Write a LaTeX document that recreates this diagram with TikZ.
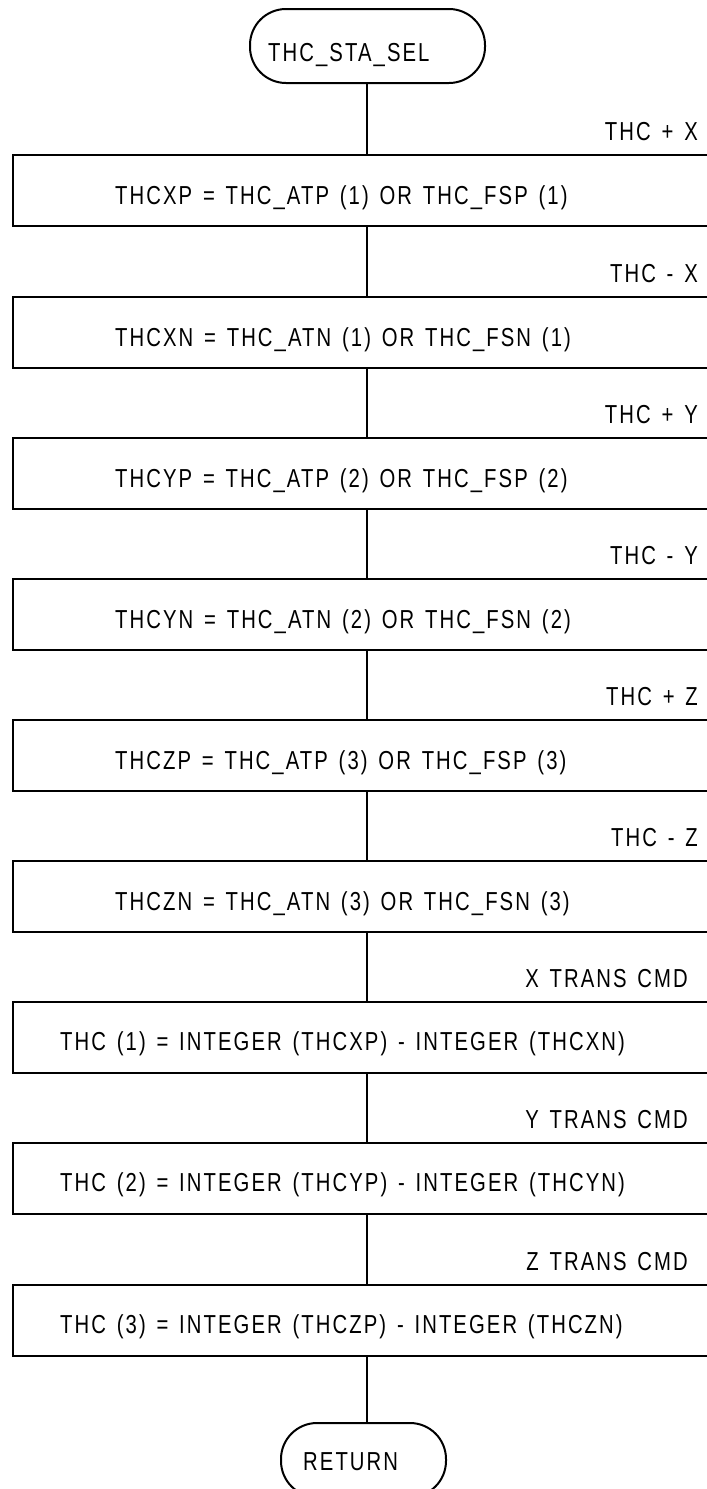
\documentclass[tikz,border=0pt]{standalone}
\usepackage{fontspec}
\setmainfont[FakeStretch=0.78,LetterSpace=8,WordSpace=1.4]{Liberation Sans}
\begin{document}
\begin{tikzpicture}[x=1pt,y=-1pt,
  every node/.style={font=\fontsize{26}{30}\selectfont},
  term/.style={draw, line width=2pt, rectangle, rounded corners=36pt, inner sep=0pt},
  procbox/.style={draw, line width=2.2pt, rectangle, minimum width=703pt, minimum height=71pt, inner sep=0pt, anchor=north west},
  boxtext/.style={anchor=base west, inner sep=0pt},
  sidelabel/.style={anchor=base east, inner sep=0pt},
  flow/.style={line width=1.6pt}]
\useasboundingbox (0,0) rectangle (707,1489);
\clip (0,0) rectangle (707,1489);
\coordinate (spine) at (367,0);
% terminators
\node[term, minimum width=235pt, minimum height=74pt] (start) at (367.5,46) {};
\node[anchor=base west, inner sep=0pt] (starttext) at (268,61) {THC\_STA\_SEL};
\node[term, minimum width=165pt, minimum height=74pt] (stop) at (363.5,1460) {};
\node[anchor=base west, inner sep=0pt] (stoptext) at (303,1470) {RETURN};
% boxes
\node[procbox] (b1) at (12,154) {};
\node[procbox] (b2) at (12,296) {};
\node[procbox] (b3) at (12,437) {};
\node[procbox] (b4) at (12,578) {};
\node[procbox] (b5) at (12,719) {};
\node[procbox] (b6) at (12,860) {};
\node[procbox] (b7) at (12,1001) {};
\node[procbox] (b8) at (12,1142) {};
\node[procbox] (b9) at (12,1284) {};
% box texts
\node[boxtext] (t1) at (115,204) {THCXP = THC\_ATP (1) OR THC\_FSP (1)};
\node[boxtext] (t2) at (115,346) {THCXN = THC\_ATN (1) OR THC\_FSN (1)};
\node[boxtext] (t3) at (115,487) {THCYP = THC\_ATP (2) OR THC\_FSP (2)};
\node[boxtext] (t4) at (115,628) {THCYN = THC\_ATN (2) OR THC\_FSN (2)};
\node[boxtext] (t5) at (115,769) {THCZP = THC\_ATP (3) OR THC\_FSP (3)};
\node[boxtext] (t6) at (115,910) {THCZN = THC\_ATN (3) OR THC\_FSN (3)};
\node[boxtext] (t7) at (60,1050) {THC (1) = INTEGER (THCXP) - INTEGER (THCXN)};
\node[boxtext] (t8) at (60,1191) {THC (2) = INTEGER (THCYP) - INTEGER (THCYN)};
\node[boxtext] (t9) at (60,1333) {THC (3) = INTEGER (THCZP) - INTEGER (THCZN)};
% side labels
\node[sidelabel] (l1) at (698,140) {THC + X};
\node[sidelabel] (l2) at (698,282) {THC - X};
\node[sidelabel] (l3) at (698,423) {THC + Y};
\node[sidelabel] (l4) at (698,564) {THC - Y};
\node[sidelabel] (l5) at (698,705) {THC + Z};
\node[sidelabel] (l6) at (698,846) {THC - Z};
\node[sidelabel] (l7) at (688,987) {X TRANS CMD};
\node[sidelabel] (l8) at (688,1128) {Y TRANS CMD};
\node[sidelabel] (l9) at (688,1270) {Z TRANS CMD};
% connectors
\draw[flow] (start.south -| spine) -- (b1.north -| spine);
\draw[flow] (b1.south -| spine) -- (b2.north -| spine);
\draw[flow] (b2.south -| spine) -- (b3.north -| spine);
\draw[flow] (b3.south -| spine) -- (b4.north -| spine);
\draw[flow] (b4.south -| spine) -- (b5.north -| spine);
\draw[flow] (b5.south -| spine) -- (b6.north -| spine);
\draw[flow] (b6.south -| spine) -- (b7.north -| spine);
\draw[flow] (b7.south -| spine) -- (b8.north -| spine);
\draw[flow] (b8.south -| spine) -- (b9.north -| spine);
\draw[flow] (b9.south -| spine) -- (stop.north -| spine);
\end{tikzpicture}
\end{document}
